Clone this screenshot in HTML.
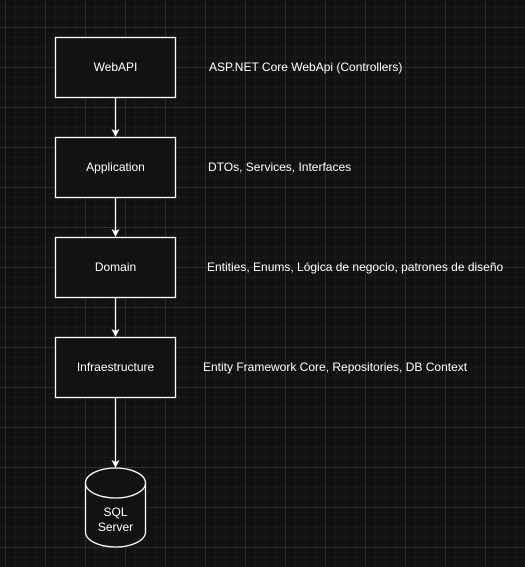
<!DOCTYPE html>
<html><head><meta charset="utf-8"><style>
html,body{margin:0;padding:0;background:#121212;}
svg{display:block}
text{font-family:"Liberation Sans",Arial,sans-serif;font-size:12px;fill:#fff}
</style></head><body>
<svg width="525" height="567" viewBox="0 0 525 567" xmlns="http://www.w3.org/2000/svg">
<defs>
<pattern id="minor" width="10" height="10" patternUnits="userSpaceOnUse" x="5" y="7">
<path d="M0 0H10M0 0V10" stroke="#1f1f1f" stroke-width="1" fill="none"/>
</pattern>
<pattern id="major" width="40" height="40" patternUnits="userSpaceOnUse" x="5" y="27">
<path d="M0 0.5H40M0.5 0V40" stroke="#2c2c2c" stroke-width="1" fill="none"/>
</pattern>
</defs>
<rect width="525" height="567" fill="#121212"/>
<rect width="525" height="567" fill="url(#minor)"/>
<rect width="525" height="567" fill="url(#major)"/>
<g stroke="#fff" stroke-width="1.3" fill="#121212">
<rect x="55.5" y="37.5" width="120" height="60"/>
<rect x="55.5" y="137.5" width="120" height="60"/>
<rect x="55.5" y="237.5" width="120" height="60"/>
<rect x="55.5" y="337.5" width="120" height="60"/>
<line x1="115.5" y1="98" x2="115.5" y2="131" fill="none"/>
<line x1="115.5" y1="198" x2="115.5" y2="231" fill="none"/>
<line x1="115.5" y1="298" x2="115.5" y2="331" fill="none"/>
<line x1="115.5" y1="398" x2="115.5" y2="462" fill="none"/>
<path d="M85.5 483 V532 A30 15 0 0 0 145.5 532 V483" />
<ellipse cx="115.5" cy="483" rx="30" ry="15"/>
</g>
<g fill="#fff">
<path d="M111.5 129 L115.5 137 L119.5 129 L115.5 131 Z"/>
<path d="M111.5 229 L115.5 237 L119.5 229 L115.5 231 Z"/>
<path d="M111.5 329 L115.5 337 L119.5 329 L115.5 331 Z"/>
<path d="M111.5 460 L115.5 468 L119.5 460 L115.5 462 Z"/>
</g>
<g text-anchor="middle">
<text x="115.5" y="71">WebAPI</text>
<text x="115.5" y="171">Application</text>
<text x="115.5" y="271">Domain</text>
<text x="115.5" y="371">Infraestructure</text>
<text x="115.5" y="516">SQL</text>
<text x="115.5" y="531">Server</text>
</g>
<text x="209" y="71">ASP.NET Core WebApi (Controllers)</text>
<text x="208" y="171">DTOs, Services, Interfaces</text>
<text x="207" y="271">Entities, Enums, Lógica de negocio, patrones de diseño</text>
<text x="203" y="371">Entity Framework Core, Repositories, DB Context</text>
</svg>
</body></html>
